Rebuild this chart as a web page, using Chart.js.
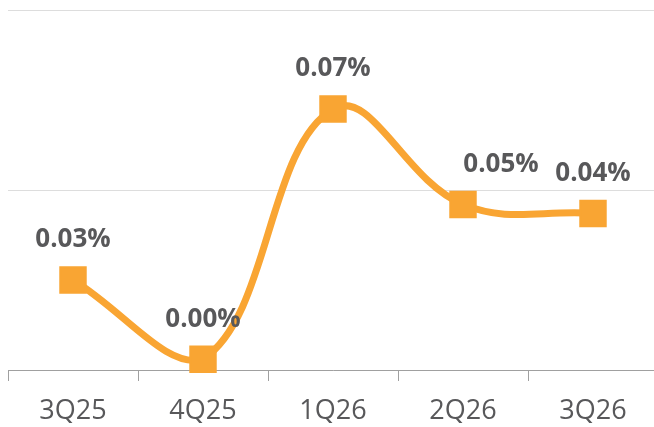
<!DOCTYPE html>
<html>
<head>
<meta charset="utf-8">
<script src="https://cdn.jsdelivr.net/npm/chart.js@4"></script>
<style>
  html, body { margin: 0; padding: 0; background: #fff; overflow: hidden; }
  #wrap { position: relative; width: 658px; height: 427px; }
</style>
</head>
<body>
<div id="wrap"><canvas id="rateChart"></canvas></div>
<script>
// data
const quarters = ['3Q25', '4Q25', '1Q26', '2Q26', '3Q26'];
const rates = [0.025, 0.003, 0.0725, 0.046, 0.0435];
const rateLabels = ['0.03%', '0.00%', '0.07%', '0.05%', '0.04%'];

const orange = '#F9A533';

// label di atas titik
const pointLabels = {
    id: 'pointLabels',
    afterDatasetsDraw(chart, args, opts) {
        const ctx = chart.ctx;
        const meta = chart.getDatasetMeta(0);
        ctx.save();
        ctx.font = 'bold 26px "Open Sans"';
        ctx.fillStyle = '#58585A';
        ctx.textAlign = 'center';
        ctx.textBaseline = 'middle';
        meta.data.forEach((pt, i) => {
            const dx = (opts.shiftX && opts.shiftX[i]) || 0;
            ctx.fillText(rateLabels[i], pt.x + dx, pt.y - opts.gap);
        });
        ctx.restore();
    }
};

new Chart(document.getElementById('rateChart').getContext('2d'), {
    type: 'line',
    data: {
        labels: quarters,
        datasets: [{
            data: rates,
            borderColor: orange,
            backgroundColor: orange,
            borderWidth: 7,
            tension: 0.4,
            clip: false,
            pointStyle: 'rect',
            pointRadius: 18,
            pointBorderWidth: 2,
            pointBorderColor: orange,
            pointBackgroundColor: orange,
            pointHoverRadius: 18
        }]
    },
    options: {
        responsive: true,
        maintainAspectRatio: false,
        animation: false,
        layout: { autoPadding: false, padding: { left: 8, top: 10, right: 0, bottom: 4 } },
        plugins: {
            legend: { display: false },
            tooltip: { enabled: false },
            pointLabels: { gap: 40, shiftX: [0, 0, 0, 38, 0] }
        },
        scales: {
            x: {
                offset: true,
                afterFit(scale) { scale.height = 53; },
                grid: {
                    display: true,
                    offset: true,
                    drawOnChartArea: false,
                    drawTicks: true,
                    tickLength: 11,
                    color: '#A0A0A0'
                },
                border: { display: true, color: '#A0A0A0', width: 1 },
                ticks: {
                    color: '#58585A',
                    padding: 14,
                    maxRotation: 0,
                    font: { family: 'Open Sans', size: 27 }
                }
            },
            y: {
                min: 0,
                max: 0.1,
                ticks: { display: false, stepSize: 0.05 },
                grid: { color: '#DDDDDD', drawTicks: false },
                border: { display: false }
            }
        }
    },
    plugins: [pointLabels]
});
</script>
</body>
</html>
